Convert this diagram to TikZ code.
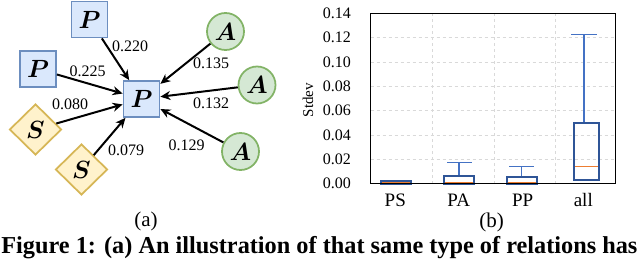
\documentclass[tikz,border=0pt]{standalone}
\usepackage{amsmath}
\usepackage{fontspec}
\setmainfont{Liberation Serif}
\usetikzlibrary{shapes.geometric,arrows.meta}

\definecolor{pfill}{HTML}{DAE8FC}
\definecolor{pline}{HTML}{6C8EBF}
\definecolor{sfill}{HTML}{FFF2CC}
\definecolor{sline}{HTML}{D6B656}
\definecolor{afill}{HTML}{D5E8D4}
\definecolor{aline}{HTML}{82B366}
\definecolor{boxblue}{HTML}{2F5597}
\definecolor{whiskblue}{HTML}{4472C4}
\definecolor{medorange}{HTML}{ED7D31}
\definecolor{gridgray}{HTML}{D9D9D9}

\tikzset{every picture/.style={line width=0.75pt}}
\tikzset{
  pbox/.style={draw=pline,fill=pfill,line width=1.75pt,minimum size=36pt,inner sep=0pt,font=\fontsize{26}{26}\selectfont},
  sdiam/.style={diamond,draw=sline,fill=sfill,line width=1.75pt,minimum width=52pt,minimum height=51pt,inner sep=0pt,font=\fontsize{26}{26}\selectfont},
  acirc/.style={circle,draw=aline,fill=afill,line width=1.75pt,minimum size=37pt,inner sep=0pt,font=\fontsize{26}{26}\selectfont},
  rel/.style={draw=black,line width=2pt,-{Stealth[length=10pt,width=9pt]}},
  wlabel/.style={inner sep=0.75pt,font=\fontsize{16}{16}\selectfont},
  sublabel/.style={inner sep=0.75pt,font=\fontsize{21}{21}\selectfont},
  ticklabel/.style={anchor=east,inner sep=0.75pt,font=\fontsize{16}{16}\selectfont},
  catlabel/.style={inner sep=0.75pt,font=\fontsize{19}{19}\selectfont},
  gridline/.style={draw=gridgray,dashed,line width=0.75pt},
  boxline/.style={draw=boxblue,line width=2pt},
  whisker/.style={draw=whiskblue,line width=1.25pt},
  median/.style={draw=medorange,line width=1.25pt}
}

\begin{document}
\begin{tikzpicture}[x=1pt,y=1pt,yscale=-1,xscale=1]
\useasboundingbox (0,0) rectangle (640,259);

%Shapes: relation graph
\node[pbox] (pc) at (141.5,99) {$\boldsymbol{P}$};
\node[pbox] (pt) at (89.5,19.5) {$\boldsymbol{P}$};
\node[pbox] (pl) at (38,69) {$\boldsymbol{P}$};
\node[sdiam] (sl) at (35.5,129.5) {$\boldsymbol{S}$};
\node[sdiam] (sb) at (81.5,169.5) {$\boldsymbol{S}$};
\node[acirc] (at) at (225.5,31.5) {$\boldsymbol{A}$};
\node[acirc] (am) at (257,85) {$\boldsymbol{A}$};
\node[acirc] (ab) at (240.5,151.5) {$\boldsymbol{A}$};

%Arrows into the centre
\draw[rel] (pt) -- (pc);
\draw[rel] (pl) -- (pc);
\draw[rel] (sl) -- (pc);
\draw[rel] (sb) -- (pc);
\draw[rel] (at) -- (pc);
\draw[rel] (am) -- (pc);
\draw[rel] (ab) -- (pc);

% Text Node
\node[wlabel] (w1) at (130,46) {0.220};
\node[wlabel] (w2) at (87.5,71) {0.225};
\node[wlabel] (w3) at (70,104) {0.080};
\node[wlabel] (w4) at (126,150) {0.079};
\node[wlabel] (w5) at (211,63) {0.135};
\node[wlabel] (w6) at (211,103) {0.132};
\node[wlabel] (w7) at (186.5,145) {0.129};
\node[sublabel] (suba) at (146,221) {(a)};

%Chart grid
\foreach \i in {1,...,6}
  \draw[gridline] (370.7,{183.7-24.343*\i}) -- (615.7,{183.7-24.343*\i});
\foreach \x in {432.7,494,555}
  \draw[gridline] (\x,13.3) -- (\x,183.7);

%Box PS
\draw[boxline] (381,181) rectangle (411,183.7);
\draw[median] (382,182.4) -- (410,182.4);
%Box PA
\draw[whisker] (459,175.7) -- (459,162.7);
\draw[whisker] (447,162.7) -- (472,162.7);
\draw[boxline] (444,175.7) rectangle (474,183.7);
\draw[median] (445,182.3) -- (473,182.3);
%Box PP
\draw[whisker] (521.7,177.3) -- (521.7,166.7);
\draw[whisker] (509,166.7) -- (534,166.7);
\draw[boxline] (506.7,177.3) rectangle (536.7,183.7);
\draw[median] (507.7,182.3) -- (535.7,182.3);
%Box all
\draw[whisker] (584,123) -- (584,34.3);
\draw[whisker] (571,34.3) -- (597,34.3);
\draw[boxline] (574.3,123) rectangle (599,180.3);
\draw[median] (575.3,166.3) -- (598,166.3);

%Axes frame
\draw[line width=1.5pt] (370.7,13.3) rectangle (615.7,183.7);

%Tick labels
\foreach \t [count=\i from 0] in {0.00,0.02,0.04,0.06,0.08,0.10,0.12,0.14}
  \node[ticklabel] (y\i) at (352,{183.7-24.343*\i}) {\t};
\node[rotate=90,inner sep=0.75pt,font=\fontsize{15}{15}\selectfont] (ylab) at (308,100) {Stdev};
\node[catlabel] (cps) at (395.3,200) {PS};
\node[catlabel] (cpa) at (458.7,200) {PA};
\node[catlabel] (cpp) at (522.7,200) {PP};
\node[catlabel] (call) at (583.3,200) {all};
\node[sublabel] (subb) at (491.7,222) {(b)};

%Caption
\node[anchor=base west,inner sep=0pt] (cap) at (1,253) {\resizebox{636pt}{!}{\bfseries Figure 1: (a) An illustration of that same type of relations has}};

\end{tikzpicture}
\end{document}
